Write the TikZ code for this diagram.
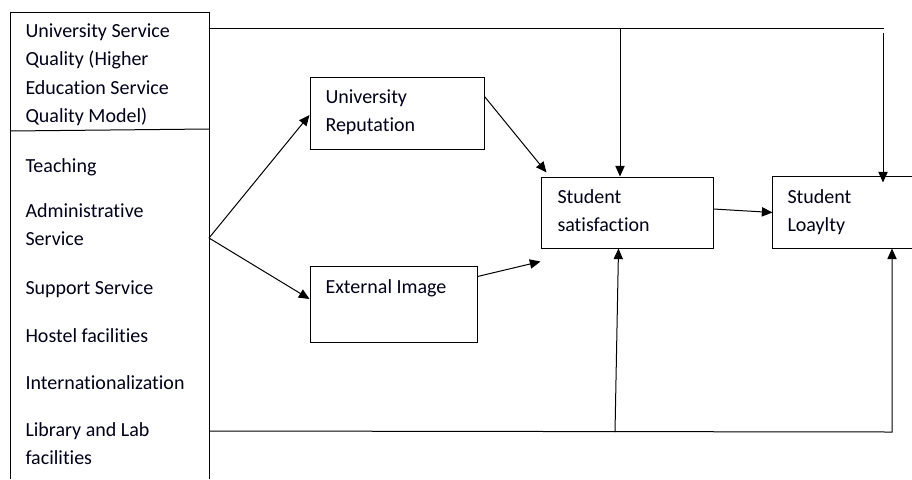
\documentclass[tikz,border=0pt]{standalone}
\usepackage{fontspec}
\setmainfont[Ligatures={NoCommon}]{Carlito}
\usetikzlibrary{arrows.meta,calc}
\begin{document}
\begin{tikzpicture}[x=0.75pt,y=-0.75pt,
  line width=0.75pt,
  lbl/.style={anchor=north west,inner sep=0pt,align=left,
    font=\fontsize{15}{21.3}\selectfont,text=black!90!blue},
  box/.style={draw,rectangle,inner sep=0pt},
  arr/.style={-{Triangle[length=8pt,width=7pt]}}]
\useasboundingbox (0,0) rectangle (912,479);
% left box (open at the bottom)
\draw (10,479) -- (10,12) -- (209,12) -- (209,479);
\draw (10,131) -- (209,129);
\coordinate (top) at (209,28);
\coordinate (branch) at (209,238);
\coordinate (bot) at (209,431);
\node[lbl] (hdr) at (25,17) {\strut University Service\\\strut Quality (Higher\\\strut Education Service\\\strut Quality Model)};
\node[lbl] (f1) at (25,152) {\strut Teaching};
\node[lbl] (f2) at (25,197) {\strut Administrative\\\strut Service};
\node[lbl] (f3) at (25,274) {\strut Support Service};
\node[lbl] (f4) at (25,322) {\strut Hostel facilities};
\node[lbl] (f5) at (25,369) {\strut Internationalization};
\node[lbl] (f6) at (25,416) {\strut Library and Lab\\\strut facilities};
% boxes
\node[box,minimum width=130.5pt,minimum height=54pt] (UR) at (397,113) {};
\node[box,minimum width=125.25pt,minimum height=57pt] (EI) at (393.5,304) {};
\node[box,minimum width=129pt,minimum height=53.25pt] (SS) at (627,212.5) {};
\node[rectangle,inner sep=0pt,minimum width=104.25pt,minimum height=53.25pt] (SL) at (842.5,212.5) {};
\draw (SL.north east) -- (SL.north west) -- (SL.south west) -- (SL.south east);
\node[lbl] (urt) at (325,83) {\strut University\\\strut Reputation};
\node[lbl] (eit) at (325,273) {\strut External Image};
\node[lbl] (sst) at (557,183) {\strut Student\\\strut satisfaction};
\node[lbl] (slt) at (787,183) {\strut Student\\\strut Loaylty};
% top connectors
\coordinate (t1) at (620,28);
\coordinate (tr) at (884,28);
\coordinate (t2) at (883,33);
\draw (top) -- (tr);
\draw[arr] (t1) -- (t1 |- SS.north);
\draw[arr] (t2) -- ($(t2 |- SL.north)+(0,6)$);
% middle connectors
\draw[arr] (branch) -- ($(UR.west)+(0,2)$);
\draw[arr] (branch) -- ($(EI.west)+(0,-5)$);
\draw[arr] ($(UR.north east)+(0,20)$) -- ($(SS.north west)+(6,-4)$);
\draw[arr] ($(EI.north east)+(0,11)$) -- ($(SS.south west)+(0,13)$);
\draw[arr] ($(SS.east)+(0,-3.5)$) -- (SL.west);
% bottom connectors
\coordinate (b1) at (615,432);
\coordinate (br) at (892,432);
\draw[arr] (bot) -- (br) -- (br |- SL.south);
\draw[arr] (b1) -- ($(SS.south west)+(78,0)$);
\end{tikzpicture}
\end{document}
